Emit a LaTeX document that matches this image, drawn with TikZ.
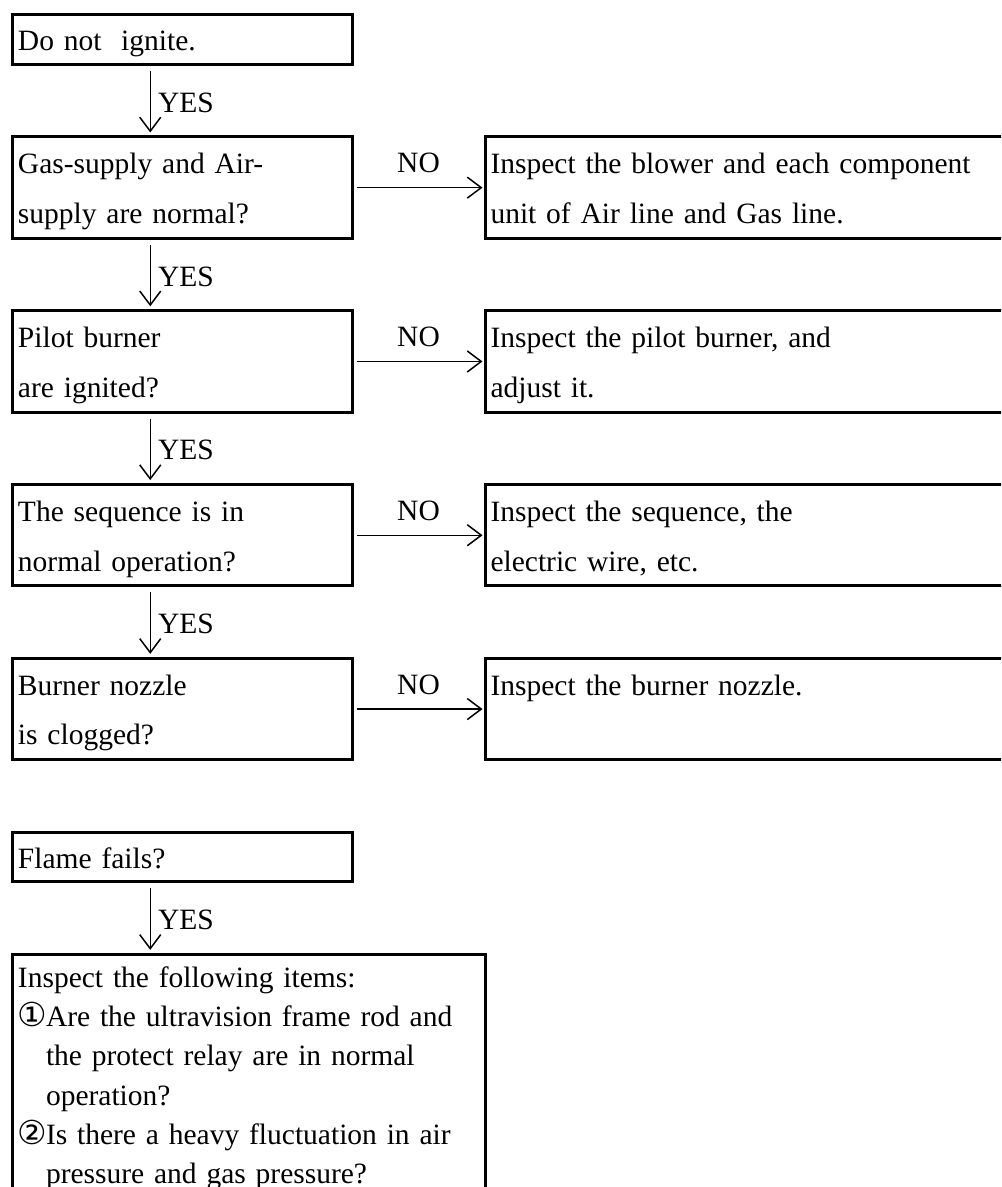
\documentclass[tikz,border=0pt]{standalone}
\usepackage{fontspec}
\setmainfont{Liberation Serif}
\newfontfamily\symfont{DejaVu Sans}
\usetikzlibrary{arrows.meta,positioning}
\newcommand{\itemmark}[1]{\makebox[14pt][l]{\symfont\fontsize{16.5pt}{19.75pt}\selectfont #1}}

\begin{document}
\begin{tikzpicture}[
    x=0.5pt, y=-0.5pt,
    node distance=34.75pt and 65pt,
    box/.style={draw, line width=1.5pt, align=left, inner xsep=2.75pt, inner ysep=0pt, text width=164.25pt, text height=18.5pt, text depth=32.15pt, font=\fontsize{14.75pt}{24.75pt}\selectfont},
    shortbox/.style={box, text height=18pt, text depth=6.85pt},
    fixbox/.style={box, text width=262pt},
    itembox/.style={box, text width=230.75pt, text height=16.5pt, text depth=130pt, font=\fontsize{14.75pt}{19.6pt}\selectfont},
    arrow/.style={-{Straight Barb[length=7pt,width=10.5pt]}, line width=0.75pt},
    yesarrow/.style={arrow, shorten <=2.5pt, shorten >=1.5pt},
    noarrow/.style={arrow, shorten <=1.75pt, shorten >=0.5pt},
    yeslabel/.style={right, inner sep=3.5pt, yshift=-1pt, font=\fontsize{14.75pt}{17pt}\selectfont},
    nolabel/.style={above, inner sep=7pt, font=\fontsize{14.75pt}{17pt}\selectfont}
]
\useasboundingbox (0,0) rectangle (1001,1187);
\clip (0,0) rectangle (1001,1187);

% checks on the left
\node[shortbox, anchor=north west] (ignite) at (11,13.3) {Do not\ \ ignite.};
\node[box, below=of ignite] (supply) {Gas-supply and Air-\\supply are normal?};
\node[box, below=of supply] (pilot) {Pilot burner\\are ignited?};
\node[box, below=of pilot] (sequence) {The sequence is in\\normal operation?};
\node[box, below=of sequence] (nozzle) {Burner nozzle\\is clogged?};
\node[shortbox, below=of nozzle] (flame) {Flame fails?};
\node[itembox, below=of flame.south west, anchor=north west] (items) {Inspect the following items:\\
    \itemmark{①}Are the ultravision frame rod and\\
    \hspace*{14pt}the protect relay are in normal\\
    \hspace*{14pt}operation?\\
    \itemmark{②}Is there a heavy fluctuation in air\\
    \hspace*{14pt}pressure and gas pressure?};

% remedies on the right
\node[fixbox, right=of supply] (blower) {Inspect the blower and each component\\unit of Air line and Gas line.};
\node[fixbox, right=of pilot] (pilotfix) {Inspect the pilot burner, and\\adjust it.};
\node[fixbox, right=of sequence] (wire) {Inspect the sequence, the\\electric wire, etc.};
\node[fixbox, right=of nozzle] (nozzlefix) {Inspect the burner nozzle.};

\draw[yesarrow] ([xshift=-16pt]ignite.south) -- node[yeslabel] {YES} ([xshift=-16pt]supply.north);
\draw[yesarrow] ([xshift=-16pt]supply.south) -- node[yeslabel] {YES} ([xshift=-16pt]pilot.north);
\draw[yesarrow] ([xshift=-16pt]pilot.south) -- node[yeslabel] {YES} ([xshift=-16pt]sequence.north);
\draw[yesarrow] ([xshift=-16pt]sequence.south) -- node[yeslabel] {YES} ([xshift=-16pt]nozzle.north);
\draw[yesarrow] ([xshift=-16pt]flame.south) -- node[yeslabel] {YES} ([xshift=-16pt]flame.south |- items.north);

\draw[noarrow] (supply) -- node[nolabel] {NO} (blower);
\draw[noarrow] (pilot) -- node[nolabel] {NO} (pilotfix);
\draw[noarrow] (sequence) -- node[nolabel] {NO} (wire);
\draw[noarrow] (nozzle) -- node[nolabel] {NO} (nozzlefix);
\end{tikzpicture}
\end{document}
